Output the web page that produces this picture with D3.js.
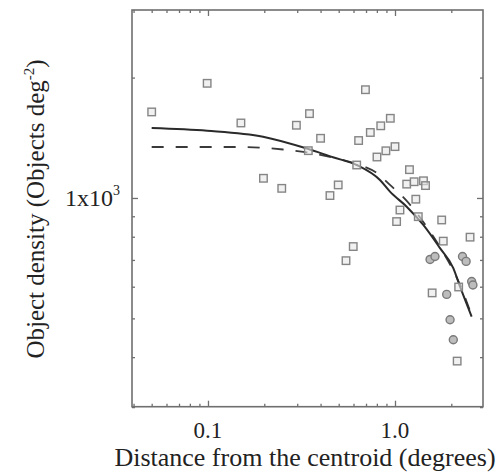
<!DOCTYPE html>
<html>
<head>
<meta charset="utf-8">
<script src="https://cdn.jsdelivr.net/npm/d3@7"></script>
<style>
  html, body { margin: 0; padding: 0; background: #fff; }
  svg { display: block; }
  text { font-family: "Liberation Serif", "DejaVu Serif", serif; fill: #222; }
</style>
</head>
<body>
<svg id="chart" width="503" height="475"></svg>
<script>
// Radial density profile: counts per square degree vs. distance from the centroid.

// Observed bins drawn as open squares
const squareR = [0.05, 0.099, 0.15, 0.198, 0.248, 0.297, 0.349, 0.40, 0.344, 0.449, 0.497, 0.547, 0.598,
                 0.624, 0.639, 0.695, 0.738, 0.839, 0.944, 0.801, 0.894, 1.0, 1.02, 1.063, 1.195, 1.155,
                 1.266, 1.42, 1.456, 1.292, 1.332, 1.777, 1.812, 2.52, 1.58, 2.19, 2.15];
const squareDensity = [1641, 1935, 1540, 1120, 1057, 1520, 1625, 1410, 1313, 1014, 1078, 697, 756,
                       1209, 1392, 1865, 1458, 1515, 1582, 1266, 1312, 1344, 873, 933, 1177, 1083,
                       1098, 1104, 1074, 993, 898, 881, 780, 798, 579, 599, 391];

// Second sample drawn as grey circles
const circleR = [1.54, 1.636, 2.296, 2.40, 2.57, 2.61, 1.89, 1.97, 2.05];
const circleDensity = [702, 714, 714, 694, 618, 606, 574, 496, 442];

// Model profiles
const solidR = [0.05, 0.099, 0.197, 0.338, 0.466, 0.624, 0.831, 0.94, 1.155, 1.417, 1.74, 2.05, 2.228, 2.57];
const solidDensity = [1496, 1473, 1423, 1329, 1264, 1209, 1109, 1037, 951, 856, 749, 668, 600, 505];

const dashedR = [0.05, 0.148, 0.252, 0.338, 0.466, 0.624, 0.798, 0.94, 1.155, 1.417, 1.74, 2.228, 2.62];
const dashedDensity = [1341, 1341, 1322, 1300, 1262, 1216, 1155, 1078, 983, 871, 754, 606, 496];

// Axis ticks and labels
const xMajorTicks = [0.1, 1.0];
const xTickLabels = ["0.1", "1.0"];
const xMinorTicks = [0.04, 0.05, 0.06, 0.07, 0.08, 0.09, 0.2, 0.3, 0.4, 0.5, 0.6, 0.7, 0.8, 0.9, 2.0];
const yMajorTicks = [1000];
const yMinorTicks = [300, 400, 500, 600, 700, 800, 900, 2000];
const xTitle = "Distance from the centroid (degrees)";

const svg = d3.select("#chart");
const plotLeft = 132, plotRight = 483, plotTop = 10, plotBottom = 406.7;

const x = d3.scaleLog().domain([0.03924, 2.955]).range([plotLeft, plotRight]);
const y = d3.scaleLog().domain([300.7, 2951]).range([plotBottom, plotTop]);

const axisColor = "#6f6f6f";

function styleAxis(g) {
  g.select(".domain").remove();
  g.selectAll(".tick line").attr("stroke", axisColor).attr("stroke-width", 1.3);
  g.selectAll(".tick text").remove();
}

// Inward ticks on all four sides
const axes = [
  [d3.axisBottom(x).tickValues(xMinorTicks).tickSize(-3), `translate(0,${plotBottom})`],
  [d3.axisBottom(x).tickValues(xMajorTicks).tickSize(-6), `translate(0,${plotBottom})`],
  [d3.axisTop(x).tickValues(xMinorTicks).tickSize(-3), `translate(0,${plotTop})`],
  [d3.axisTop(x).tickValues(xMajorTicks).tickSize(-6), `translate(0,${plotTop})`],
  [d3.axisLeft(y).tickValues(yMinorTicks).tickSize(-3), `translate(${plotLeft},0)`],
  [d3.axisLeft(y).tickValues(yMajorTicks).tickSize(-6), `translate(${plotLeft},0)`],
  [d3.axisRight(y).tickValues(yMinorTicks).tickSize(-3), `translate(${plotRight},0)`],
  [d3.axisRight(y).tickValues(yMajorTicks).tickSize(-6), `translate(${plotRight},0)`]
];
axes.forEach(([ax, tr]) => svg.append("g").attr("transform", tr).call(ax).call(styleAxis));

// Frame
svg.append("rect")
  .attr("x", plotLeft).attr("y", plotTop)
  .attr("width", plotRight - plotLeft).attr("height", plotBottom - plotTop)
  .attr("fill", "none").attr("stroke", axisColor).attr("stroke-width", 1.6);

// Model curves
const line = d3.line().x(d => x(d[0])).y(d => y(d[1])).curve(d3.curveMonotoneX);

svg.append("path")
  .datum(dashedR.map((r, i) => [r, dashedDensity[i]]))
  .attr("d", line)
  .attr("fill", "none").attr("stroke", "#3a3a3a").attr("stroke-width", 1.8)
  .attr("stroke-dasharray", "12,12");

svg.append("path")
  .datum(solidR.map((r, i) => [r, solidDensity[i]]))
  .attr("d", line)
  .attr("fill", "none").attr("stroke", "#2a2a2a").attr("stroke-width", 2);

// Points
const sq = 7.5;
svg.append("g").selectAll("rect")
  .data(squareR.map((r, i) => [r, squareDensity[i]]))
  .join("rect")
  .attr("x", d => x(d[0]) - sq / 2)
  .attr("y", d => y(d[1]) - sq / 2)
  .attr("width", sq).attr("height", sq)
  .attr("fill", "#e8e8e8").attr("fill-opacity", 0.6)
  .attr("stroke", "#858585").attr("stroke-width", 1.4);

svg.append("g").selectAll("circle")
  .data(circleR.map((r, i) => [r, circleDensity[i]]))
  .join("circle")
  .attr("cx", d => x(d[0]))
  .attr("cy", d => y(d[1]))
  .attr("r", 4)
  .attr("fill", "#bdbdbd")
  .attr("stroke", "#7a7a7a").attr("stroke-width", 1.4);

// Tick labels
svg.append("g").selectAll("text")
  .data(xMajorTicks)
  .join("text")
  .attr("x", d => x(d))
  .attr("y", 438)
  .attr("text-anchor", "middle")
  .attr("font-size", 23)
  .text((d, i) => xTickLabels[i]);

const yLab = svg.append("text")
  .attr("x", 120).attr("y", y(1000) + 8)
  .attr("text-anchor", "end")
  .attr("font-size", 24);
yLab.append("tspan").text("1x10");
yLab.append("tspan").attr("font-size", 14).attr("dy", -11).text("3");

// Axis titles
svg.append("text")
  .attr("x", 305).attr("y", 466)
  .attr("text-anchor", "middle")
  .attr("font-size", 26)
  .text(xTitle);

const yTitle = svg.append("text")
  .attr("transform", "translate(44,209) rotate(-90)")
  .attr("text-anchor", "middle")
  .attr("font-size", 25);
yTitle.append("tspan").text("Object density (Objects deg");
yTitle.append("tspan").attr("font-size", 15).attr("dy", -10).text("-2");
yTitle.append("tspan").attr("dy", 10).text(")");
</script>
</body>
</html>
